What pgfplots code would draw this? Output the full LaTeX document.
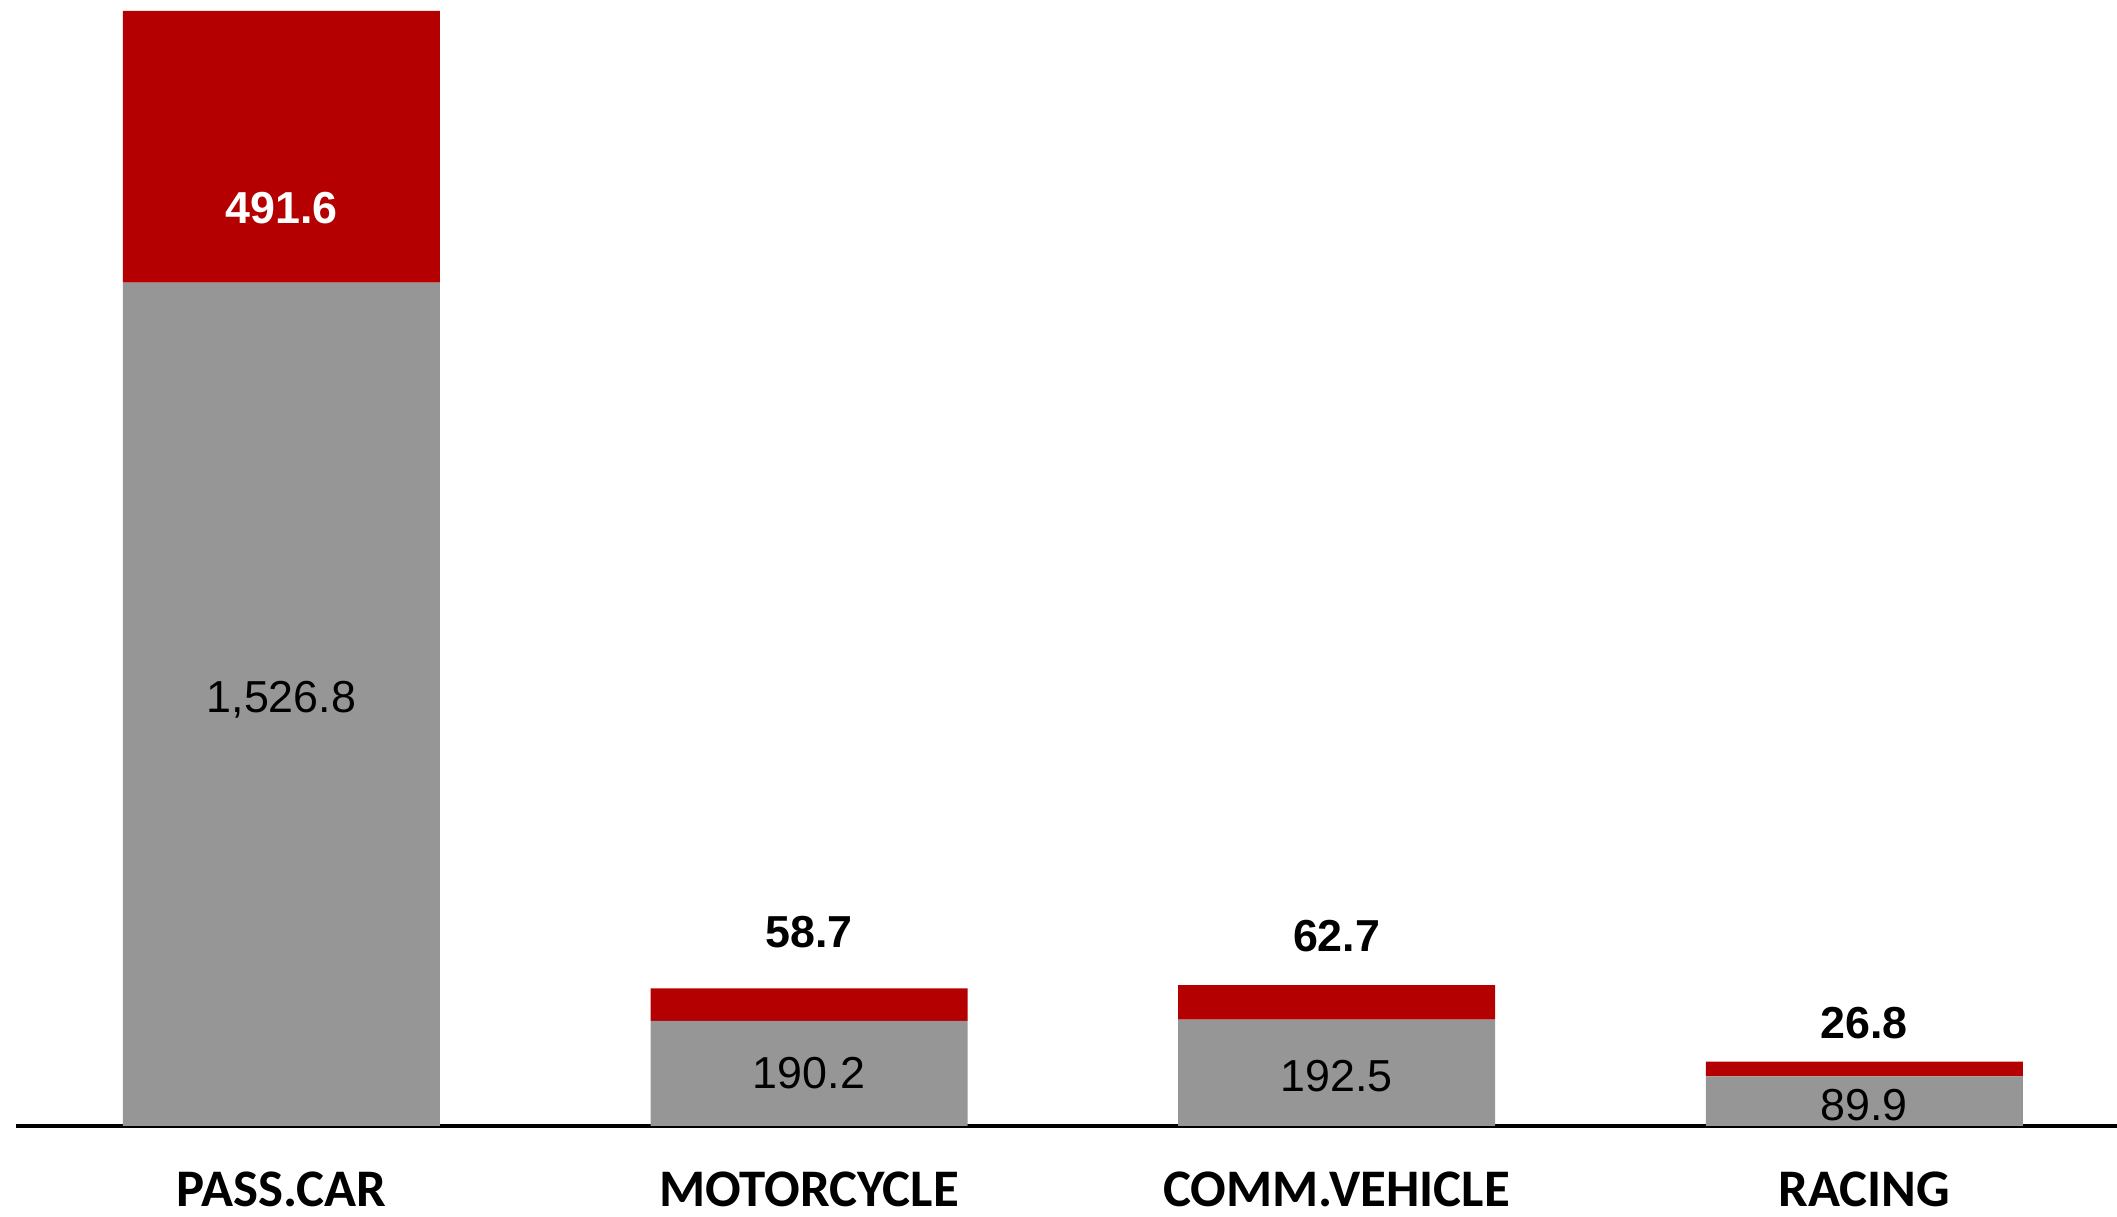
\documentclass[border=0pt]{standalone}
\usepackage{pgfplots}
\pgfplotsset{compat=1.18}
\usepackage{fontspec}
\setmainfont{Liberation Sans}
\newfontfamily\catfont{Carlito}
\definecolor{barred}{RGB}{180,0,0}
\definecolor{bargray}{RGB}{150,150,150}
\pgfplotsset{
  common/.style={
    at={(0,0)}, anchor=south west,
    scale only axis, width=525.25pt, height=278.75pt,
    xmin=-0.503, xmax=3.479, ymin=0, ymax=2018.4,
    clip=false,
  },
  lbl/.style={draw=none, mark=none, nodes near coords, point meta=explicit symbolic,
    every node near coord/.append style={anchor=center, inner sep=0pt, text depth=0pt, #1}},
}
\begin{document}
\begin{tikzpicture}
\useasboundingbox (-4pt,-22.75pt) rectangle (525.25pt,281.5pt);
\begin{axis}[common,
  ybar stacked, bar width=79.25pt,
  axis x line=bottom, axis y line=none,
  axis line style={-, line width=0.9pt, black},
  xtick={0,1,2,3}, xticklabels={PASS.CAR,MOTORCYCLE,COMM.VEHICLE,RACING},
  xtick style={draw=none},
  xticklabel style={anchor=base, inner sep=0pt, text depth=0pt, yshift=-18.1pt, font=\catfont\bfseries\fontsize{13.2}{13.2}\selectfont},
]
\addplot[fill=bargray, draw=none] coordinates {(0,1526.8) (1,190.2) (2,192.5) (3,89.9)};
\addplot[fill=barred, draw=none] coordinates {(0,491.6) (1,58.7) (2,62.7) (3,26.8)};
\end{axis}
\begin{axis}[common, hide axis]
\addplot[lbl={font=\fontsize{11.2}{11.2}\selectfont, text=black}] table[meta=label] {
x y label
0 777 1,526.8
1 96 190.2
2 90 192.5
3 38 89.9
};
\addplot[lbl={font=\bfseries\fontsize{11.2}{11.2}\selectfont, text=white}] table[meta=label] {
x y label
0 1662 491.6
};
\addplot[lbl={font=\bfseries\fontsize{11.2}{11.2}\selectfont, text=black}] table[meta=label] {
x y label
1 352 58.7
2 345 62.7
3 186 26.8
};
\end{axis}
\end{tikzpicture}
\end{document}
